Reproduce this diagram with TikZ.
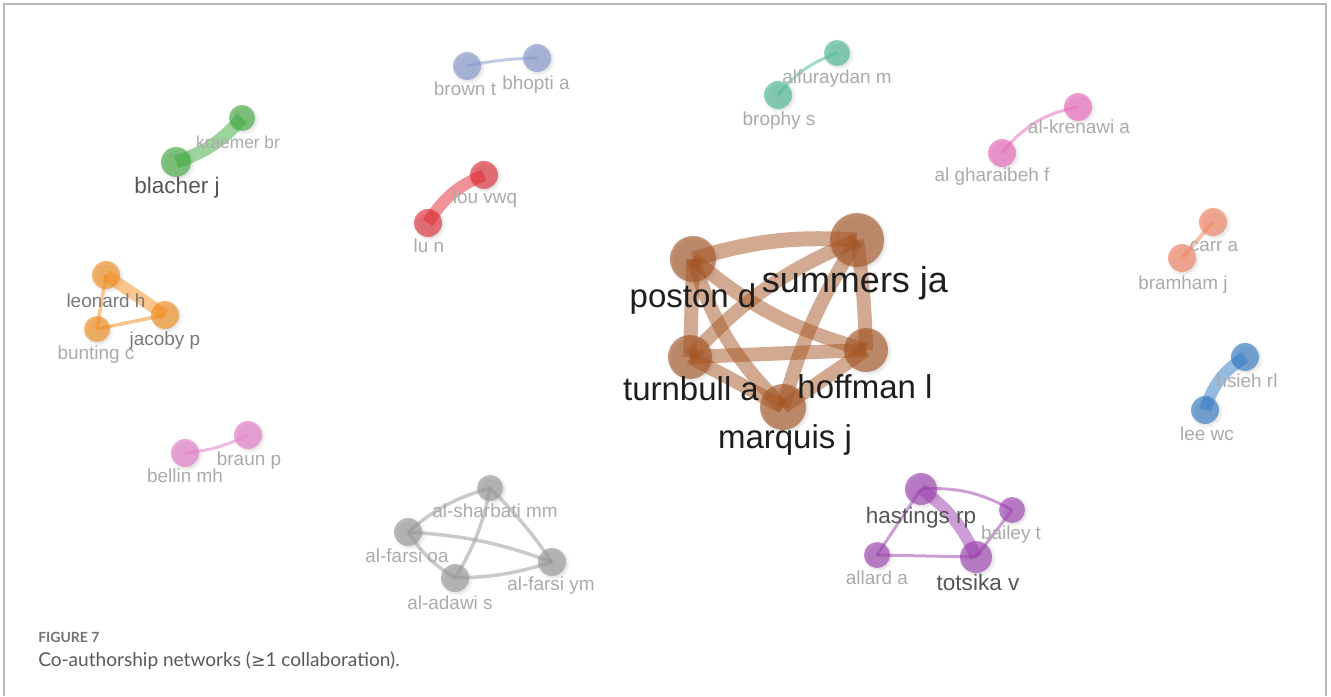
\documentclass[tikz,border=0pt]{standalone}
\usepackage{fontspec}
\setmainfont{Liberation Sans}
\newfontfamily\capfont{Lato}
\newfontfamily\symfont{DejaVu Sans}
\usetikzlibrary{shadows.blur}

\definecolor{cBrown}{RGB}{165,85,35}
\definecolor{cGreen}{RGB}{60,170,60}
\definecolor{cSlate}{RGB}{130,150,205}
\definecolor{cTeal}{RGB}{70,185,145}
\definecolor{cPink}{RGB}{235,100,185}
\definecolor{cRed}{RGB}{225,40,50}
\definecolor{cSalmon}{RGB}{245,130,95}
\definecolor{cOrange}{RGB}{245,140,25}
\definecolor{cBlue}{RGB}{45,120,195}
\definecolor{cRose}{RGB}{230,120,200}
\definecolor{cGrey}{RGB}{150,150,150}
\definecolor{cPurple}{RGB}{155,60,175}
\definecolor{txDark}{RGB}{30,30,30}
\definecolor{txMid}{RGB}{85,85,85}
\definecolor{txSoft}{RGB}{120,120,120}
\definecolor{txLight}{RGB}{170,170,170}

\tikzset{
  nd/.style 2 args={circle, inner sep=0pt, minimum size={1.5pt*#2}, fill=#1,
    fill opacity=0.62,
    blur shadow={shadow xshift=1.3pt, shadow yshift=-1.3pt,
      shadow blur radius=2.2pt, shadow opacity=22}},
  ed/.style 2 args={draw=#1, line width={0.75pt*#2}, draw opacity=0.5, line cap=butt},
  lb/.style={text=#1, inner sep=0pt, anchor=mid},
  fbig/.style={font=\fontsize{24.75}{28}\selectfont, yshift=-5.5pt},
  fsum/.style={font=\fontsize{27}{30}\selectfont, yshift=-5pt},
  fmed/.style={font=\fontsize{16.9}{19}\selectfont, yshift=-4pt},
  fsml/.style={font=\fontsize{14.2}{16}\selectfont, yshift=-3pt},
  ftin/.style={font=\fontsize{13}{15}\selectfont, yshift=-2pt},
}

\begin{document}
\begin{tikzpicture}[x=0.75pt,y=-0.75pt]
\path[use as bounding box] (0,0) rectangle (1331,696);
% outer frame
\draw[draw=black!28, line width=1.1pt] (4,696) -- (4,4) -- (1326,4) -- (1326,696);

% ---------------- nodes ----------------
% brown cluster
\node[nd={cBrown}{23}] (poston)   at (693,259) {};
\node[nd={cBrown}{27}] (summers)  at (857,240) {};
\node[nd={cBrown}{22}] (turnbull) at (690,357) {};
\node[nd={cBrown}{22}] (hoffman)  at (866,350) {};
\node[nd={cBrown}{23}] (marquis)  at (783,407) {};
% green
\node[nd={cGreen}{13}] (kraemer) at (242,118) {};
\node[nd={cGreen}{15}] (blacher) at (176,162) {};
% slate
\node[nd={cSlate}{14}] (brown)  at (467,66) {};
\node[nd={cSlate}{14}] (bhopti) at (537,58) {};
% teal
\node[nd={cTeal}{13}] (alfur)  at (837,53) {};
\node[nd={cTeal}{14}] (brophy) at (778,95) {};
% pink
\node[nd={cPink}{14}] (krenawi)   at (1078,107) {};
\node[nd={cPink}{14}] (gharaibeh) at (1002,153) {};
% red
\node[nd={cRed}{14}] (lou) at (484,175) {};
\node[nd={cRed}{14}] (lun) at (428,223) {};
% salmon
\node[nd={cSalmon}{14}] (carr)    at (1213,222) {};
\node[nd={cSalmon}{14}] (bramham) at (1182,258) {};
% orange
\node[nd={cOrange}{14}] (leonard) at (106,275) {};
\node[nd={cOrange}{14}] (jacoby)  at (165,315) {};
\node[nd={cOrange}{13}] (bunting) at (97,329) {};
% blue
\node[nd={cBlue}{14}] (hsieh) at (1245,357) {};
\node[nd={cBlue}{14}] (leewc) at (1205,410) {};
% rose
\node[nd={cRose}{14}] (braun)  at (248,435) {};
\node[nd={cRose}{14}] (bellin) at (185,453) {};
% grey
\node[nd={cGrey}{13}] (sharbati) at (490,488) {};
\node[nd={cGrey}{14}] (farsioa)  at (408,532) {};
\node[nd={cGrey}{14}] (farsiym)  at (552,562) {};
\node[nd={cGrey}{14}] (adawi)    at (455,578) {};
% purple
\node[nd={cPurple}{16}] (hastings) at (921,489) {};
\node[nd={cPurple}{13}] (bailey)   at (1012,510) {};
\node[nd={cPurple}{13}] (allard)   at (877,555) {};
\node[nd={cPurple}{16}] (totsika)  at (976,557) {};

% ---------------- links ----------------
\draw[ed={cBrown}{15}] (poston.center) to[bend left=10] (summers.center);
\draw[ed={cBrown}{14}] (poston.center) -- (turnbull.center);
\draw[ed={cBrown}{14}] (poston.center) to[bend right=12] (hoffman.center);
\draw[ed={cBrown}{14}] (poston.center) to[bend right=14] (marquis.center);
\draw[ed={cBrown}{14}] (turnbull.center) to[bend left=12] (summers.center);
\draw[ed={cBrown}{14}] (turnbull.center) -- (hoffman.center);
\draw[ed={cBrown}{14}] (turnbull.center) -- (marquis.center);
\draw[ed={cBrown}{14}] (summers.center) to[bend left=3] (hoffman.center);
\draw[ed={cBrown}{14}] (summers.center) to[bend right=8] (marquis.center);
\draw[ed={cBrown}{14}] (hoffman.center) -- (marquis.center);

\draw[ed={cGreen}{13}] (blacher.center) to[bend right=15] (kraemer.center);
\draw[ed={cSlate}{3}] (brown.center) to[bend left=5] (bhopti.center);
\draw[ed={cTeal}{3}] (brophy.center) to[bend left=15] (alfur.center);
\draw[ed={cPink}{3}] (gharaibeh.center) to[bend left=20] (krenawi.center);
\draw[ed={cRed}{12}] (lun.center) to[bend left=18] (lou.center);
\draw[ed={cSalmon}{4}] (bramham.center) -- (carr.center);
\draw[ed={cBlue}{12}] (leewc.center) to[bend left=20] (hsieh.center);
\draw[ed={cRose}{3}] (bellin.center) to[bend right=10] (braun.center);

\draw[ed={cOrange}{12}] (leonard.center) -- (jacoby.center);
\draw[ed={cOrange}{3.5}] (leonard.center) -- (bunting.center);
\draw[ed={cOrange}{3.5}] (bunting.center) -- (jacoby.center);

\draw[ed={cGrey}{3.5}] (farsioa.center) to[bend left=12] (sharbati.center);
\draw[ed={cGrey}{3.5}] (sharbati.center) to[bend left=5] (farsiym.center);
\draw[ed={cGrey}{3.5}] (sharbati.center) to[bend left=10] (adawi.center);
\draw[ed={cGrey}{3.5}] (farsioa.center) to[bend left=8] (farsiym.center);
\draw[ed={cGrey}{3.5}] (farsioa.center) to[bend right=12] (adawi.center);
\draw[ed={cGrey}{3.5}] (adawi.center) to[bend right=8] (farsiym.center);

\draw[ed={cPurple}{12}] (hastings.center) to[bend left=15] (totsika.center);
\draw[ed={cPurple}{3}] (hastings.center) to[bend left=16] (bailey.center);
\draw[ed={cPurple}{3}] (hastings.center) -- (allard.center);
\draw[ed={cPurple}{3}] (allard.center) -- (totsika.center);
\draw[ed={cPurple}{3}] (bailey.center) -- (totsika.center);

% ---------------- labels ----------------
\node[lb=txDark, fbig] (poston-l)   at (693,297) {poston d};
\node[lb=txDark, fsum] (summers-l)  at (855,282) {summers ja};
\node[lb=txDark, fbig] (turnbull-l) at (691,390) {turnbull a};
\node[lb=txDark, fbig] (hoffman-l)  at (865,388) {hoffman l};
\node[lb=txDark, fbig] (marquis-l)  at (785,438) {marquis j};

\node[lb=txLight, ftin] (kraemer-l) at (238,142) {kraemer br};
\node[lb=txMid, fmed]   (blacher-l) at (177,185) {blacher j};
\node[lb=txLight, fsml] (brown-l)   at (465,88) {brown t};
\node[lb=txLight, fsml] (bhopti-l)  at (536,82) {bhopti a};
\node[lb=txLight, fsml] (alfur-l)   at (837,76) {alfuraydan m};
\node[lb=txLight, fsml] (brophy-l)  at (779,118) {brophy s};
\node[lb=txLight, fsml] (krenawi-l) at (1079,126) {al-krenawi a};
\node[lb=txLight, fsml] (gharaibeh-l) at (992,174) {al gharaibeh f};
\node[lb=txLight, fsml] (lou-l)     at (485,196) {lou vwq};
\node[lb=txLight, fsml] (lun-l)     at (429,245) {lu n};
\node[lb=txLight, fsml] (carr-l)    at (1214,244) {carr a};
\node[lb=txLight, fsml] (bramham-l) at (1183,282) {bramham j};
\node[lb=txSoft, fsml]  (leonard-l) at (106,300) {leonard h};
\node[lb=txSoft, fsml]  (jacoby-l)  at (165,338) {jacoby p};
\node[lb=txLight, fsml] (bunting-l) at (96,352) {bunting c};
\node[lb=txLight, fsml] (hsieh-l)   at (1247,380) {hsieh rl};
\node[lb=txLight, fsml] (leewc-l)   at (1207,433) {lee wc};
\node[lb=txLight, fsml] (braun-l)   at (249,458) {braun p};
\node[lb=txLight, fsml] (bellin-l)  at (185,475) {bellin mh};
\node[lb=txLight, fsml] (sharbati-l) at (495,510) {al-sharbati mm};
\node[lb=txLight, fsml] (farsioa-l) at (407,555) {al-farsi oa};
\node[lb=txLight, fsml] (farsiym-l) at (551,583) {al-farsi ym};
\node[lb=txLight, fsml] (adawi-l)   at (450,602) {al-adawi s};
\node[lb=txMid, fmed]   (hastings-l) at (921,515) {hastings rp};
\node[lb=txLight, fsml] (bailey-l)  at (1011,532) {bailey t};
\node[lb=txLight, fsml] (allard-l)  at (877,577) {allard a};
\node[lb=txMid, fmed]   (totsika-l) at (978,582) {totsika v};

% ---------------- caption ----------------
\node[anchor=base west, inner sep=0pt, text=black!55,
  font=\capfont\bfseries\fontsize{10.5}{12}\selectfont] (figno) at (38,642) {FIGURE 7};
\node[anchor=base west, inner sep=0pt, text=black!65,
  font=\capfont\fontsize{14.3}{17}\selectfont] (figcap) at (38,666)
  {Co-authorship networks ({\symfont\fontsize{13}{15}\selectfont ≥}1 collaboration).};
\end{tikzpicture}
\end{document}
